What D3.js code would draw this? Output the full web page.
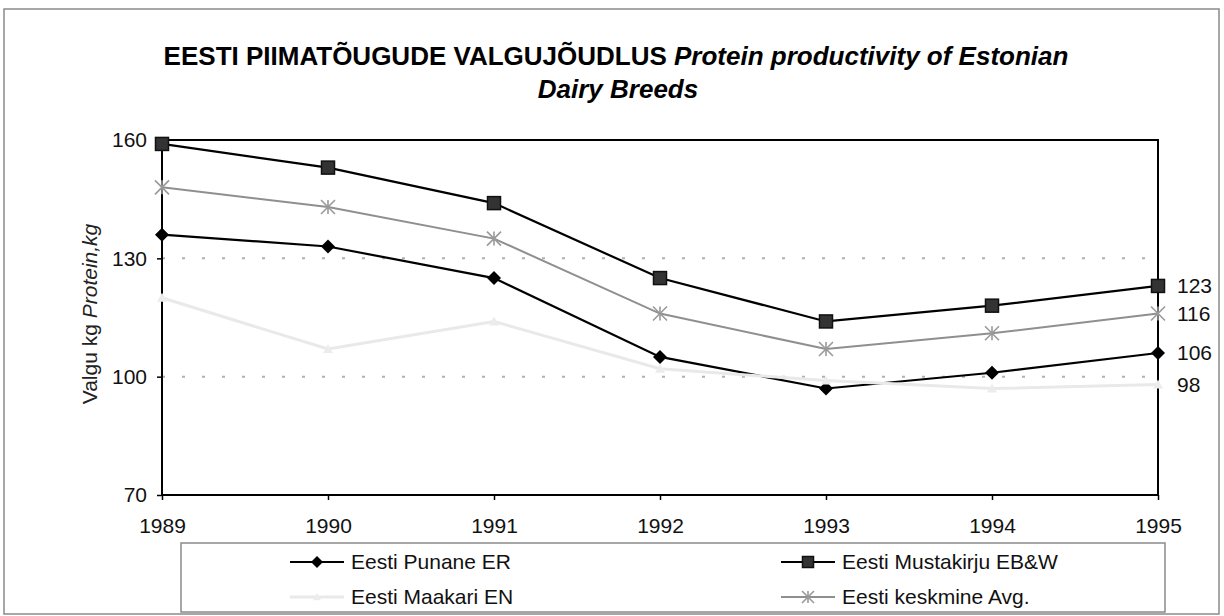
<!DOCTYPE html>
<html>
<head>
<meta charset="utf-8">
<script src="https://cdn.jsdelivr.net/npm/d3@7"></script>
<style>
  body { margin: 0; background: #fff; }
  text { font-family: Arial, "Liberation Sans", sans-serif; }
</style>
</head>
<body>
<div id="chart"></div>
<script>
// ---- data ----
var years = [1989, 1990, 1991, 1992, 1993, 1994, 1995];
var punane = [136, 133, 125, 105, 97, 101, 106];
var mustakirju = [159, 153, 144, 125, 114, 118, 123];
var keskmine = [148, 143, 135, 116, 107, 111, 116];
var maakari = [120, 107, 114, 102, 99, 97, 98];
var yTicks = [70, 100, 130, 160];
var gridVals = [100, 130];

var W = 1224, H = 616;
var plot = {left: 162, right: 1158, top: 140, bottom: 495};

var svg = d3.select("#chart").append("svg")
    .attr("width", W)
    .attr("height", H);

// outer chart border
svg.append("rect")
    .attr("x", 4).attr("y", 9)
    .attr("width", 1215).attr("height", 605)
    .attr("fill", "none")
    .attr("stroke", "#8a8a8a")
    .attr("stroke-width", 1.5);

// title
var title = svg.append("text")
    .attr("x", 616).attr("y", 65)
    .attr("text-anchor", "middle")
    .style("font-size", "26px")
    .style("font-weight", "bold");
title.append("tspan").text("EESTI PIIMATÕUGUDE VALGUJÕUDLUS ");
title.append("tspan").style("font-style", "italic").text("Protein productivity of Estonian");
svg.append("text")
    .attr("x", 618).attr("y", 98)
    .attr("text-anchor", "middle")
    .style("font-size", "26px")
    .style("font-weight", "bold")
    .style("font-style", "italic")
    .text("Dairy Breeds");

var x = d3.scalePoint().domain(years).range([plot.left, plot.right]);
var y = d3.scaleLinear().domain([70, 160]).range([plot.bottom, plot.top]);

// dotted gridlines
svg.append("g").selectAll("line")
    .data(gridVals)
  .enter().append("line")
    .attr("x1", plot.left).attr("x2", plot.right)
    .attr("y1", function(d) { return y(d); })
    .attr("y2", function(d) { return y(d); })
    .attr("stroke", "#b0b0b0")
    .attr("stroke-width", 2)
    .attr("stroke-dasharray", "3,17");

// axes
var yAxis = svg.append("g")
    .attr("transform", "translate(" + plot.left + ",0)")
    .call(d3.axisLeft(y).tickValues(yTicks).tickSize(5).tickPadding(10));
var xAxis = svg.append("g")
    .attr("transform", "translate(0," + plot.bottom + ")")
    .call(d3.axisBottom(x).tickSize(5).tickPadding(10));
[yAxis, xAxis].forEach(function(a) {
  a.select(".domain").remove();
  a.selectAll("line").attr("stroke", "#000").attr("stroke-width", 1.5);
  a.selectAll("text")
    .attr("fill", "#111")
    .style("font-family", "Arial, 'Liberation Sans', sans-serif")
    .style("font-size", "21px");
});
xAxis.selectAll("text").attr("dy", "0.71em").attr("y", 23);

// plot frame
svg.append("rect")
    .attr("x", plot.left).attr("y", plot.top)
    .attr("width", plot.right - plot.left)
    .attr("height", plot.bottom - plot.top)
    .attr("fill", "none")
    .attr("stroke", "#000")
    .attr("stroke-width", 2);

// y axis title
var yt = svg.append("text")
    .attr("transform", "translate(97,314) rotate(-90)")
    .attr("text-anchor", "middle")
    .style("font-size", "21px")
    .attr("fill", "#222");
yt.append("tspan").text("Valgu kg ");
yt.append("tspan").style("font-style", "italic").text("Protein,kg");

// markers
function drawMarker(g, type, cx, cy, s) {
  if (type == "diamond") {
    g.append("path")
      .attr("d", "M" + cx + "," + (cy - s) + "L" + (cx + s) + "," + cy + "L" + cx + "," + (cy + s) + "L" + (cx - s) + "," + cy + "Z")
      .attr("fill", "#000");
  } else if (type == "square") {
    g.append("rect")
      .attr("x", cx - s).attr("y", cy - s)
      .attr("width", 2 * s).attr("height", 2 * s)
      .attr("fill", "#333").attr("stroke", "#111").attr("stroke-width", 1.5);
  } else if (type == "star") {
    g.append("path")
      .attr("d", "M" + (cx - s) + "," + (cy - s) + "L" + (cx + s) + "," + (cy + s) +
                 "M" + (cx - s) + "," + (cy + s) + "L" + (cx + s) + "," + (cy - s) +
                 "M" + cx + "," + (cy - s) + "L" + cx + "," + (cy + s))
      .attr("stroke", "#9a9a9a").attr("stroke-width", 1.6).attr("fill", "none");
  } else if (type == "tri") {
    g.append("path")
      .attr("d", "M" + cx + "," + (cy - s) + "L" + (cx + s) + "," + (cy + s * 0.8) + "L" + (cx - s) + "," + (cy + s * 0.8) + "Z")
      .attr("fill", "#ececec");
  }
}

var series = [
  {name: "Eesti Punane ER", values: punane, color: "#000", width: 2.2, marker: "diamond", ms: 7},
  {name: "Eesti Mustakirju EB&W", values: mustakirju, color: "#000", width: 2.2, marker: "square", ms: 6.5},
  {name: "Eesti keskmine Avg.", values: keskmine, color: "#8f8f8f", width: 2, marker: "star", ms: 7},
  {name: "Eesti Maakari EN", values: maakari, color: "#e9e9e9", width: 3, marker: "tri", ms: 5}
];

var line = d3.line()
    .x(function(d, i) { return x(years[i]); })
    .y(function(d) { return y(d); });

series.forEach(function(s) {
  var g = svg.append("g");
  g.append("path")
    .datum(s.values)
    .attr("d", line)
    .attr("fill", "none")
    .attr("stroke", s.color)
    .attr("stroke-width", s.width);
  s.values.forEach(function(v, i) {
    drawMarker(g, s.marker, x(years[i]), y(v), s.ms);
  });
  // value label at the last year
  var last = s.values[s.values.length - 1];
  svg.append("text")
    .attr("x", x(years[years.length - 1]) + 19)
    .attr("y", y(last))
    .attr("dy", "0.35em")
    .style("font-size", "21px")
    .attr("fill", "#111")
    .text(last);
});

// legend
var lg = svg.append("g");
lg.append("rect")
    .attr("x", 181).attr("y", 543)
    .attr("width", 984).attr("height", 69)
    .attr("fill", "none")
    .attr("stroke", "#8a8a8a")
    .attr("stroke-width", 1.5);

var legendPos = [
  {s: series[0], x: 290, y: 562},
  {s: series[1], x: 781, y: 562},
  {s: series[3], x: 290, y: 597},
  {s: series[2], x: 781, y: 597}
];
legendPos.forEach(function(p) {
  var g = lg.append("g");
  g.append("line")
    .attr("x1", p.x).attr("x2", p.x + 54)
    .attr("y1", p.y).attr("y2", p.y)
    .attr("stroke", p.s.color)
    .attr("stroke-width", p.s.width);
  drawMarker(g, p.s.marker, p.x + 27, p.y, p.s.ms - 1);
  g.append("text")
    .attr("x", p.x + 61)
    .attr("y", p.y)
    .attr("dy", "0.35em")
    .style("font-size", "21px")
    .attr("fill", "#111")
    .text(p.s.name);
});
</script>
</body>
</html>
